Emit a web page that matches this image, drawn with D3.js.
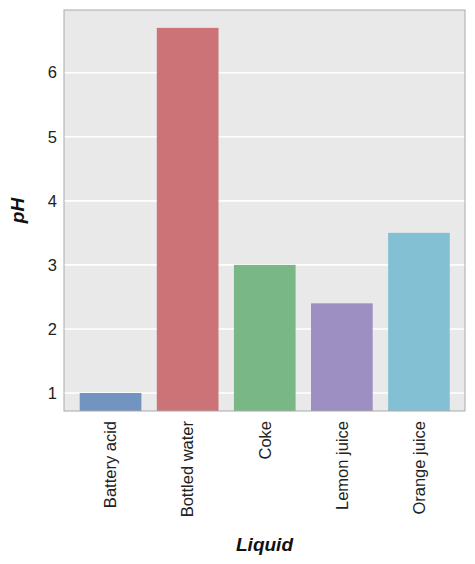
<!DOCTYPE html>
<html><head><meta charset="utf-8">
<script src="https://cdn.jsdelivr.net/npm/d3@7"></script>
<style>body{margin:0;background:#fff;}svg{display:block;font-family:"Liberation Sans",Arial,sans-serif;}</style>
</head><body>
<svg id="c" width="475" height="564"></svg>
<script>
const categories = ["Battery acid","Bottled water","Coke","Lemon juice","Orange juice"];
const phValues = [1.0, 6.7, 3.0, 2.4, 3.5];
const yTicks = [1,2,3,4,5,6];
const colors = ["#7393c1","#cb7377","#79b787","#9d8fc1","#84c0d3"];

const svg = d3.select("#c");
const L = 64, R = 465, T = 10, B = 411;
const x = d3.scaleBand().domain(categories).range([72, 457.5]).paddingInner(0.2).paddingOuter(0.1);
const y = d3.scaleLinear().domain([0.719, 6.979]).range([B, T]);

svg.append("rect").attr("x", L).attr("y", T).attr("width", R - L).attr("height", B - T).attr("fill", "#e9e9e9");

svg.append("g").selectAll("line").data(yTicks).join("line")
  .attr("x1", L).attr("x2", R).attr("y1", d => y(d)).attr("y2", d => y(d))
  .attr("stroke", "#fff").attr("stroke-width", 1.6);

svg.append("g").selectAll("rect").data(categories).join("rect")
  .attr("x", d => x(d)).attr("width", x.bandwidth())
  .attr("y", (d, i) => y(phValues[i])).attr("height", (d, i) => B - y(phValues[i]))
  .attr("fill", (d, i) => colors[i]);

svg.append("rect").attr("x", L).attr("y", T).attr("width", R - L).attr("height", B - T)
  .attr("fill", "none").attr("stroke", "#a9a9a9").attr("stroke-width", 1);

const yAxis = svg.append("g").attr("transform", `translate(${L},0)`)
  .call(d3.axisLeft(y).tickValues(yTicks).tickSize(0).tickPadding(7).tickFormat(d3.format("d")));
yAxis.select(".domain").remove();
yAxis.selectAll("text").attr("font-size", 16.5).attr("fill", "#222").attr("font-family", '"Liberation Sans",Arial,sans-serif');

const xAxis = svg.append("g").attr("transform", `translate(0,${B})`)
  .call(d3.axisBottom(x).tickSize(0).tickPadding(0));
xAxis.select(".domain").remove();
xAxis.selectAll("text")
  .attr("font-size", 16.5).attr("fill", "#222").attr("font-family", '"Liberation Sans",Arial,sans-serif')
  .attr("transform", "rotate(-90)")
  .attr("text-anchor", "end")
  .attr("x", -10).attr("y", 0).attr("dy", "0.35em");

svg.append("text").attr("x", (L + R) / 2).attr("y", 551).attr("text-anchor", "middle")
  .attr("font-size", 19).attr("font-weight", "bold").attr("font-style", "italic").attr("fill", "#111").text("Liquid");
svg.append("text").attr("transform", `translate(24,${(T + B) / 2}) rotate(-90)`).attr("text-anchor", "middle")
  .attr("font-size", 19).attr("font-weight", "bold").attr("font-style", "italic").attr("fill", "#111").text("pH");
</script>
</body></html>
